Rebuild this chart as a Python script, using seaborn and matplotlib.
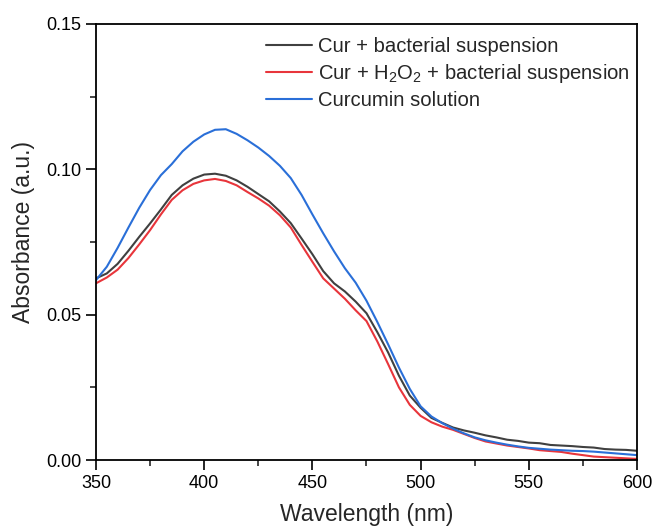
import matplotlib

matplotlib.use("Agg")
import matplotlib.pyplot as plt
import pandas as pd
import seaborn as sns
from matplotlib.ticker import FormatStrFormatter, MultipleLocator

wavelength = list(range(350, 601, 5))

cur_bacteria = [
    0.0625, 0.0642, 0.0675, 0.0720, 0.0768, 0.0814, 0.0862, 0.0912, 0.0945, 0.0968,
    0.0982, 0.0985, 0.0978, 0.0962, 0.0940, 0.0915, 0.0890, 0.0855, 0.0815, 0.0762,
    0.0708, 0.0650, 0.0608, 0.0580, 0.0545, 0.0505, 0.0440, 0.0370, 0.0290, 0.0222,
    0.0180, 0.0145, 0.0128, 0.0112, 0.0102, 0.0094, 0.0085, 0.0078, 0.0070, 0.0066,
    0.0060, 0.0058, 0.0052, 0.0050, 0.0048, 0.0045, 0.0043, 0.0038, 0.0036, 0.0035,
    0.0032,
]

cur_h2o2_bacteria = [
    0.0608, 0.0628, 0.0655, 0.0695, 0.0742, 0.0791, 0.0845, 0.0895, 0.0928, 0.0950,
    0.0962, 0.0967, 0.0960, 0.0945, 0.0922, 0.0900, 0.0875, 0.0842, 0.0800, 0.0740,
    0.0682, 0.0625, 0.0590, 0.0555, 0.0515, 0.0478, 0.0408, 0.0330, 0.0250, 0.0190,
    0.0152, 0.0130, 0.0115, 0.0104, 0.0090, 0.0076, 0.0064, 0.0057, 0.0050, 0.0045,
    0.0040, 0.0034, 0.0031, 0.0028, 0.0022, 0.0017, 0.0012, 0.0010, 0.0008, 0.0006,
    0.0004,
]

curcumin = [
    0.0619, 0.0665, 0.0730, 0.0800, 0.0868, 0.0929, 0.0980, 0.1018, 0.1062, 0.1095,
    0.1120, 0.1136, 0.1138, 0.1122, 0.1100, 0.1075, 0.1046, 0.1012, 0.0970, 0.0912,
    0.0845, 0.0780, 0.0718, 0.0660, 0.0610, 0.0548, 0.0475, 0.0398, 0.0318, 0.0245,
    0.0185, 0.0150, 0.0127, 0.0108, 0.0092, 0.0078, 0.0068, 0.0060, 0.0053, 0.0047,
    0.0042, 0.0039, 0.0036, 0.0034, 0.0032, 0.0031, 0.0029, 0.0026, 0.0023, 0.0020,
    0.0017,
]

labels = [
    "Cur + bacterial suspension",
    "Cur + H$_2$O$_2$ + bacterial suspension",
    "Curcumin solution",
]
colors = ["#404040", "#e8353b", "#2a6fd8"]

sns.set_theme(style="ticks")
plt.rcParams["font.family"] = ["Liberation Sans", "DejaVu Sans"]
plt.rcParams["mathtext.fontset"] = "custom"
plt.rcParams["mathtext.rm"] = "Liberation Sans"
plt.rcParams["mathtext.it"] = "Liberation Sans:italic"

n = len(wavelength)
df = pd.DataFrame({
    "wavelength": wavelength * 3,
    "absorbance": cur_bacteria + cur_h2o2_bacteria + curcumin,
    "sample": [labels[0]] * n + [labels[1]] * n + [labels[2]] * n,
})

fig = plt.figure(figsize=(6.53, 5.27), dpi=100)
ax = fig.add_axes([0.147, 0.127, 0.8285, 0.8275])

sns.lineplot(
    data=df, x="wavelength", y="absorbance", hue="sample",
    hue_order=labels, palette=colors, linewidth=1.5, ax=ax,
)

ax.set_xlim(350, 600)
ax.set_ylim(0, 0.15)
ax.xaxis.set_major_locator(MultipleLocator(50))
ax.xaxis.set_minor_locator(MultipleLocator(25))
ax.yaxis.set_major_locator(MultipleLocator(0.05))
ax.yaxis.set_minor_locator(MultipleLocator(0.025))
ax.yaxis.set_major_formatter(FormatStrFormatter("%.2f"))

ax.tick_params(which="major", direction="out", length=7, width=1.2, labelsize=13, colors="black")
ax.tick_params(which="minor", direction="out", length=4, width=1.2)
for spine in ax.spines.values():
    spine.set_visible(True)
    spine.set_linewidth(1.3)
    spine.set_color("black")

ax.set_xlabel("Wavelength (nm)", fontsize=16.5, labelpad=8)
ax.set_ylabel("Absorbance (a.u.)", fontsize=16.5)
ax.yaxis.set_label_coords(-0.112, 0.523)

ax.legend(
    loc="upper right", bbox_to_anchor=(1.0, 0.986), frameon=False, fontsize=14.6,
    handlelength=2.3, handletextpad=0.3, labelspacing=0.3,
    borderaxespad=0.0, borderpad=0.35,
)

fig.savefig("out.png", dpi=100)
